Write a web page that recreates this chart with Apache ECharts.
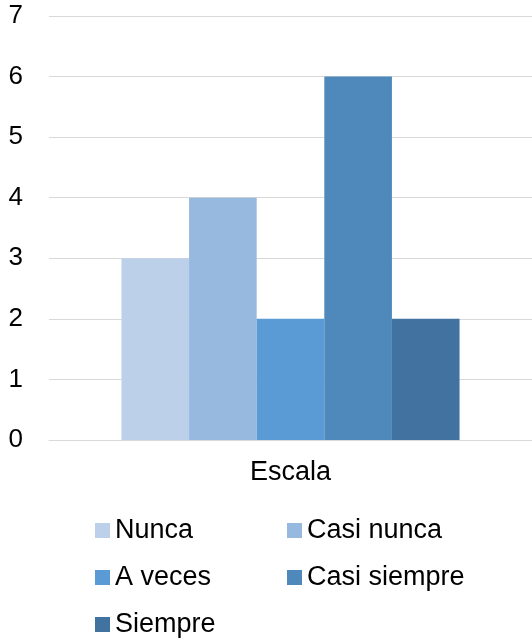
<!DOCTYPE html>
<html><head><meta charset="utf-8">
<script src="https://cdn.jsdelivr.net/npm/echarts@6/dist/echarts.min.js"></script>
<style>html,body{margin:0;padding:0;background:#fff}#c{width:532px;height:640px}</style>
</head><body><div id="c"></div>
<script>
var categories = ['Escala'];
var seriesNames = ['Nunca', 'Casi nunca', 'A veces', 'Casi siempre', 'Siempre'];
var nunca = [3];
var casiNunca = [4];
var aVeces = [2];
var casiSiempre = [6];
var siempre = [2];
var colors = ['#BDD0EA', '#98B9DF', '#5B9BD5', '#4F89BC', '#42729F'];
var values = [nunca, casiNunca, aVeces, casiSiempre, siempre];

var chart = echarts.init(document.getElementById('c'), null, {renderer: 'canvas'});
var font = 'Liberation Sans, Arial, sans-serif';
chart.setOption({
  animation: false,
  textStyle: {fontFamily: font},
  grid: {left: 49, right: 0, top: 16, bottom: 200, containLabel: false},
  legend: {
    left: 95, top: 517, width: 420, padding: 0,
    itemWidth: 15, itemHeight: 15, itemGap: 20,
    icon: 'rect',
    textStyle: {fontSize: 27, color: '#000', fontFamily: font, width: 152, lineHeight: 25},
    data: seriesNames
  },
  xAxis: {
    type: 'category', data: categories,
    axisLine: {lineStyle: {color: '#D9D9D9', width: 1}},
    axisTick: {show: false},
    axisLabel: {fontSize: 27, color: '#000', margin: 19, fontFamily: font}
  },
  yAxis: {
    type: 'value', min: 0, max: 7, interval: 1,
    axisLine: {show: false}, axisTick: {show: false},
    splitLine: {lineStyle: {color: '#D9D9D9', width: 1}},
    axisLabel: {fontSize: 26, color: '#000', margin: 26, fontFamily: font}
  },
  series: seriesNames.map(function (n, i) {
    return {
      name: n, type: 'bar', data: values[i],
      barGap: '0%', barCategoryGap: '30%',
      itemStyle: {color: colors[i]}
    };
  })
});
</script></body></html>
